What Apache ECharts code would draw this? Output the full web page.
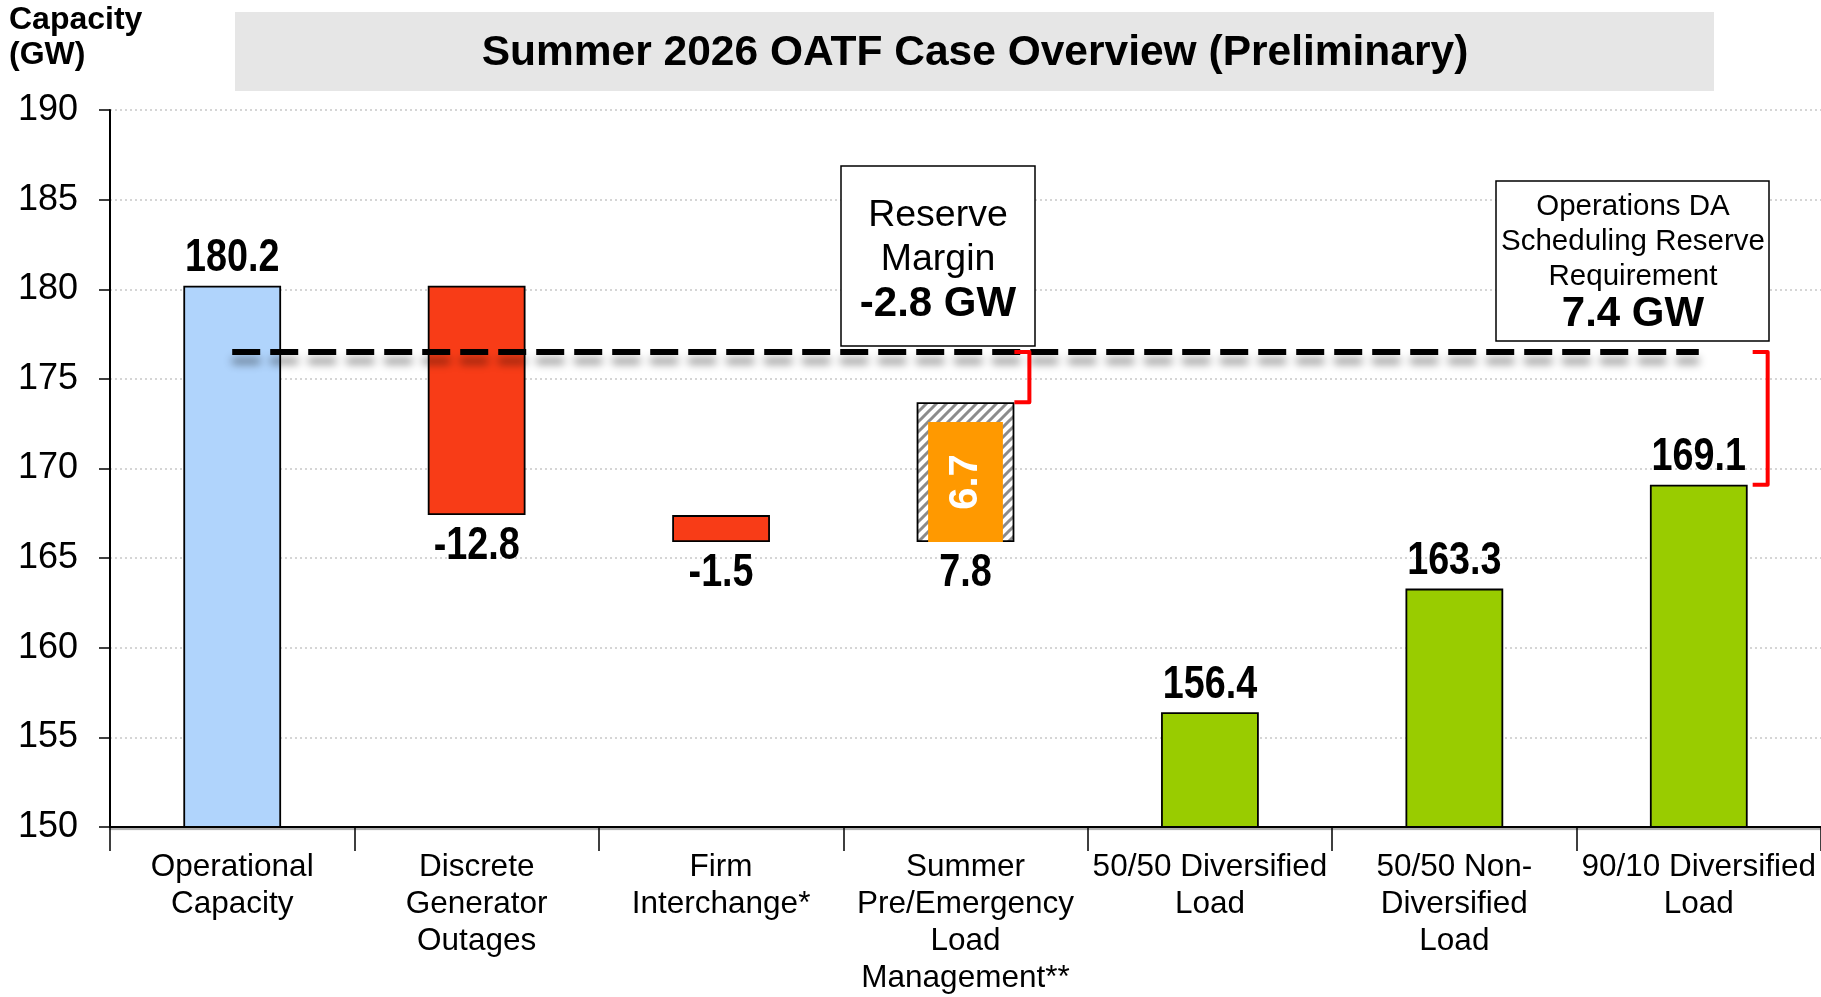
<!DOCTYPE html>
<html>
<head>
<meta charset="utf-8">
<title>Summer 2026 OATF Case Overview (Preliminary)</title>
<script src="https://cdn.jsdelivr.net/npm/echarts@6/dist/echarts.min.js"></script>
<style>
  html, body { margin: 0; padding: 0; background: #fff; }
  #chart { width: 1821px; height: 997px; }
</style>
</head>
<body>
<div id="chart"></div>
<script>
// categories and values
const categories = [
  'Operational\nCapacity',
  'Discrete\nGenerator\nOutages',
  'Firm\nInterchange*',
  'Summer\nPre/Emergency\nLoad\nManagement**',
  '50/50 Diversified\nLoad',
  '50/50 Non-\nDiversified\nLoad',
  '90/10 Diversified\nLoad'
];
// 'total' bars start at the axis, 'delta' bars float on the running total
const stepKinds = ['total', 'delta', 'delta', 'delta', 'total', 'total', 'total'];
const stepValues = [180.2, -12.8, -1.5, 7.8, 156.4, 163.3, 169.1];
const stepColors = ['#b0d4fc', '#f83c17', '#f83c17', 'hatch', '#99cc00', '#99cc00', '#99cc00'];
const innerLoadMgmt = [6.7];      // orange part of the load management bar
const requirementLevel = 176.5;   // dashed line
const yMin = 150, yMax = 190, yStep = 5;

const SANS = "'Liberation Sans', Arial, Helvetica, sans-serif";

// waterfall layout from the values
const baseData = [], barData = [], levelBefore = [], levelAfter = [];
let running = 0;
stepValues.forEach((v, i) => {
  let base, h;
  if (stepKinds[i] === 'total') { base = 0; h = v; running = v; levelBefore.push(v); }
  else {
    levelBefore.push(running);
    base = v < 0 ? running + v : running;
    h = Math.abs(v);
    running = +(running + v).toFixed(1);
  }
  levelAfter.push(running);
  baseData.push(+base.toFixed(1));
  barData.push(+h.toFixed(1));
});

// diagonal hatch pattern
function makeHatch() {
  const s = 10;
  const c = document.createElement('canvas');
  c.width = s; c.height = s;
  const g = c.getContext('2d');
  g.fillStyle = '#fff'; g.fillRect(0, 0, s, s);
  g.strokeStyle = '#8c8c8c'; g.lineWidth = 3;
  g.beginPath();
  g.moveTo(-2, s + 2); g.lineTo(s + 2, -2);
  g.moveTo(-2, 2); g.lineTo(2, -2);
  g.moveTo(s - 2, s + 2); g.lineTo(s + 2, s - 2);
  g.stroke();
  return { image: c, repeat: 'repeat' };
}
const hatch = makeHatch();

const mgmtIndex = 3;
const capacityAfter = levelAfter[mgmtIndex];
const lastLoad = stepValues[stepValues.length - 1];
const reserveMargin = (capacityAfter - requirementLevel).toFixed(1);
const schedulingReq = (requirementLevel - lastLoad).toFixed(1);

const barItems = barData.map((h, i) => ({
  value: h,
  itemStyle: { color: stepColors[i] === 'hatch' ? hatch : stepColors[i] }
}));

// value labels: [category, anchor value, side]  side 1 = above bar top, -1 = below bar bottom
const labelData = stepValues.map((v, i) => stepKinds[i] === 'delta'
  ? [i, baseData[i], -1, v]
  : [i, v, 1, v]);

const innerData = innerLoadMgmt.map(v => [mgmtIndex, levelBefore[mgmtIndex], +(levelBefore[mgmtIndex] + v).toFixed(1), v]);
const bracketData = [
  [mgmtIndex, requirementLevel, capacityAfter, 0],
  [stepValues.length - 1, requirementLevel, lastLoad, 5]
];

const chart = echarts.init(document.getElementById('chart'));
chart.setOption({
  backgroundColor: '#fff',
  animation: false,
  grid: { left: 110, right: 0, top: 110, bottom: 165, containLabel: false },
  xAxis: {
    type: 'category',
    data: categories,
    axisLine: { lineStyle: { color: '#000', width: 2, shadowColor: 'rgba(0,0,0,0.35)', shadowOffsetY: 2, shadowBlur: 1 } },
    axisTick: { show: true, length: 24, lineStyle: { color: '#000', width: 1.5 } },
    axisLabel: {
      interval: 0, hideOverlap: false, margin: 22,
      color: '#000', fontFamily: SANS, fontSize: 31.5, lineHeight: 37
    }
  },
  yAxis: {
    type: 'value', min: yMin, max: yMax, interval: yStep,
    axisLine: { show: true, lineStyle: { color: '#000', width: 2 } },
    axisTick: { show: true, length: 11, lineStyle: { color: '#000', width: 1.5 } },
    axisLabel: { margin: 32, color: '#000', fontFamily: SANS, fontSize: 36 },
    splitLine: { show: true, lineStyle: { color: '#c8c8c8', width: 1.5, type: [2, 3] } }
  },
  graphic: [
    { type: 'rect', shape: { x: 235, y: 12, width: 1479, height: 79 }, style: { fill: '#e6e6e6' }, z: 0 },
    { type: 'text', x: 975, y: 53, style: { text: 'Summer 2026 OATF Case Overview (Preliminary)', fill: '#000', font: 'bold 42.5px ' + SANS, align: 'center', verticalAlign: 'middle' }, z: 5 },
    { type: 'text', x: 9, y: 3, style: { text: 'Capacity\n(GW)', fill: '#000', font: 'bold 32px ' + SANS, lineHeight: 35 }, z: 5 },
    { type: 'rect', shape: { x: 841, y: 166, width: 194, height: 180 }, style: { fill: '#fff', stroke: '#000', lineWidth: 1.5 }, z: 10 },
    { type: 'text', x: 938, y: 260, z: 11, style: {
        text: '{a|Reserve}\n{a|Margin}\n{b|' + reserveMargin + ' GW}', align: 'center', verticalAlign: 'middle',
        rich: { a: { font: '37.5px ' + SANS, fill: '#000', lineHeight: 44 }, b: { font: 'bold 42px ' + SANS, fill: '#000', lineHeight: 44 } }
    } },
    { type: 'rect', shape: { x: 1496, y: 181, width: 273, height: 160 }, style: { fill: '#fff', stroke: '#000', lineWidth: 1.5 }, z: 10 },
    { type: 'text', x: 1633, y: 262, z: 11, style: {
        text: '{a|Operations DA}\n{a|Scheduling Reserve}\n{a|Requirement}\n{b|' + schedulingReq + ' GW}', align: 'center', verticalAlign: 'middle',
        rich: { a: { font: '29.5px ' + SANS, fill: '#000', lineHeight: 35 }, b: { font: 'bold 42px ' + SANS, fill: '#000', lineHeight: 40 } }
    } }
  ],
  series: [
    {
      type: 'bar', stack: 'w', barWidth: '40%', silent: true,
      itemStyle: { color: 'transparent', borderWidth: 0 },
      data: baseData, z: 1
    },
    {
      type: 'bar', stack: 'w', barWidth: '40%',
      itemStyle: { borderColor: '#000', borderWidth: 1.8 },
      data: barItems, z: 2,
      markLine: {
        silent: true, symbol: 'none', z: 6,
        label: { show: false },
        lineStyle: { color: '#000', width: 6, type: [28, 10], shadowColor: 'rgba(0,0,0,0.45)', shadowBlur: 8, shadowOffsetY: 9 },
        data: [[{ coord: [0, requirementLevel] }, { coord: [categories.length - 1, requirementLevel] }]]
      }
    },
    {
      // orange inner bar of the load management step
      type: 'custom', z: 3,
      renderItem(params, api) {
        const lo = api.coord([api.value(0), api.value(1)]);
        const hi = api.coord([api.value(0), api.value(2)]);
        const w = api.size([1, 0])[0] * 0.4 - 23;
        return {
          type: 'rect',
          shape: { x: lo[0] - w / 2, y: hi[1], width: w, height: lo[1] - hi[1] },
          style: { fill: '#ff9900' },
          textContent: { rotation: Math.PI / 2, style: { text: api.value(3).toFixed(1), fill: '#fff', font: 'bold 40px ' + SANS } },
          textConfig: { position: 'inside' }
        };
      },
      data: innerData
    },
    {
      // condensed value labels
      type: 'custom', z: 8, silent: true,
      renderItem(params, api) {
        const p = api.coord([api.value(0), api.value(1)]);
        const side = api.value(2);
        return {
          type: 'text',
          x: p[0], y: p[1] + (side > 0 ? -27 : 31),
          scaleX: 0.82,
          style: { text: api.value(3).toFixed(1), fill: '#000', font: 'bold 46px ' + SANS, align: 'center', verticalAlign: 'middle' }
        };
      },
      data: labelData
    },
    {
      // red brackets
      type: 'custom', z: 7,
      renderItem(params, api) {
        const top = api.coord([api.value(0), api.value(1)]);
        const bot = api.coord([api.value(0), api.value(2)]);
        const x0 = top[0] + api.size([1, 0])[0] * 0.2 + api.value(3);
        const x1 = x0 + 15;
        return {
          type: 'polyline',
          shape: { points: [[x0, top[1]], [x1, top[1]], [x1, bot[1]], [x0, bot[1]]] },
          style: { stroke: '#ff0000', lineWidth: 4, fill: null, lineJoin: 'round' }
        };
      },
      data: bracketData
    }
  ]
});
window.addEventListener('resize', () => chart.resize());
</script>
</body>
</html>
